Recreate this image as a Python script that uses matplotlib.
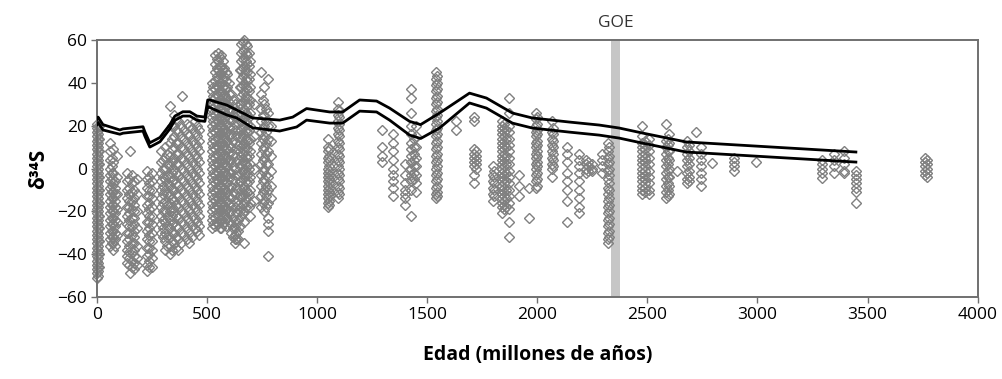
import numpy as np
import matplotlib.pyplot as plt

# Curva del sulfato marino: límite superior e inferior (edad en Ma, δ34S en ‰)
sulfato_edad_sup = [0, 5, 27, 104, 118, 209, 218, 240, 286, 331, 354, 390, 422, 454, 490, 503,
                    512, 590, 635, 707, 830, 889, 952, 1057, 1116, 1193, 1270, 1329, 1420, 1470,
                    1556, 1692, 1769, 1887, 1977, 2145, 2281, 2372, 2476, 2676, 3447]
sulfato_sup = [23, 24, 20.5, 18, 18.5, 19.5, 17, 12, 14.5, 20.5, 24.5, 26.5, 26.5, 24.5, 24, 32,
               32, 29.6, 27.3, 23.6, 22.6, 24, 28, 26.4, 26.4, 32, 31.5, 28.2, 22, 20.5,
               25.9, 35.2, 32.9, 25.9, 23.6, 21.7, 20.3, 18.9, 16.6, 12.4, 7.7]
sulfato_edad_inf = [0, 5, 27, 104, 118, 209, 218, 240, 286, 331, 354, 390, 422, 454, 490, 503,
                    512, 590, 635, 707, 830, 907, 952, 1057, 1116, 1193, 1270, 1329, 1420, 1470,
                    1556, 1692, 1769, 1887, 1977, 2145, 2281, 2372, 2476, 2676, 3447]
sulfato_inf = [20.5, 21.5, 18, 16, 16.5, 17.5, 15, 10, 12.5, 18.5, 22.5, 24.5, 24.5, 22.5, 22, 29,
               28.5, 25, 23.6, 19, 17.5, 19.4, 22.6, 21.2, 21.2, 26.8, 26.4, 22.6, 15.6, 14,
               18.9, 30.6, 28.2, 21.2, 18.9, 17, 15.6, 14.2, 11.9, 7.7, 3]

# Gran Evento de Oxidación
goe_inicio, goe_fin = 2335, 2375

# Sulfuros sedimentarios: (edad en Ma, valores de δ34S medidos a esa edad)
fanerozoico = [
    (0, [-51, -49, -47, -45, -43, -41, -39, -37, -35, -33, -31, -29, -27, -25, -23, -21, -19,
         -17, -15, -13, -11, -9, -7, -5, -3, -1, 1, 3, 5, 7, 9, 11, 13, 15, 17, 19, 21]),
    (3, [-50, -48, -46, -44, -42, -40, -38, -36, -34, -32, -30, -28, -26, -24, -22, -20, -18,
         -16, -14, -12, -10, -8, -6, -4, -2, 0, 2, 4, 6, 8, 10, 12, 14, 16, 18, 20]),
    (8, [-46, -40, -34, -28, -22, -16, -10, -4, 2, 8, 14, 20]),
    (60, [12, 8, 4, 0, -3, -6, -9, -12, -15, -18, -21, -24, -27, -30, -33, -36]),
    (67, [5, 1, -2, -5, -8, -11, -14, -17, -20, -23, -26, -29, -32, -35]),
    (74, [9, 3, -2, -7, -11, -14, -17, -20, -23, -26, -29, -32, -35, -38]),
    (82, [-6, -9, -12, -15, -18, -21, -24, -27, -30, -33, -36]),
    (90, [6, -4, -12, -19, -25, -31]),
    (138, [-2, -6, -10, -14, -18, -22, -26, -30, -34, -38, -41, -44]),
    (146, [-5, -9, -12, -15, -18, -21, -24, -27, -30, -33, -36, -39, -42, -45]),
    (152, [8, -49]),
    (160, [-3, -7, -11, -15, -19, -23, -27, -31, -35, -39, -43, -46]),
    (170, [-6, -10, -14, -17, -20, -23, -26, -29, -32, -35, -38, -41, -44, -47]),
    (182, [-5, -12, -20, -28, -36, -42, -45]),
    (228, [-1, -5, -9, -13, -17, -21, -25, -29, -33, -37, -41, -45, -48]),
    (238, [-4, -7, -10, -13, -16, -19, -22, -25, -28, -31, -34, -37, -40, -43, -46]),
    (248, [-2, -6, -10, -14, -18, -22, -26, -30, -34, -38, -42, -46]),
    (290, [8, 3, -2, -6, -10, -14, -18, -22, -26, -30]),
    (300, [4, 0, -4, -8, -12, -16, -20, -24, -28, -32]),
    (310, [10, 5, 0, -5, -10, -15, -20, -25, -30, -34, -38]),
    (320, [7, 2, -3, -7, -12, -17, -22, -27, -32, -36]),
    (330, [29, 12, 6, 1, -4, -8, -12, -16, -20, -24, -28, -32, -36, -40]),
    (340, [20, 14, 9, 3, -2, -6, -10, -14, -18, -22, -26, -30, -34, -38]),
    (350, [25, 20, 15, 10, 5, 0, -5, -10, -15, -20, -25, -30, -35]),
    (360, [23, 18, 12, 7, 2, -2, -7, -12, -17, -22, -27, -32, -37]),
    (370, [22, 17, 12, 7, 2, -3, -8, -13, -18, -23, -28, -33, -38]),
    (380, [20, 15, 10, 5, 0, -5, -10, -15, -20, -25, -30, -35]),
    (386, [34]),
    (395, [18, 14, 9, 4, -1, -6, -11, -16, -21, -26, -31]),
    (408, [21, 16, 12, 7, 2, -3, -8, -13, -18, -23, -28, -33]),
    (420, [20, 15, 10, 5, 0, -5, -10, -15, -20, -25, -30, -35]),
    (432, [19, 13, 8, 3, -2, -7, -12, -17, -22, -27, -32]),
    (445, [22, 17, 12, 7, 2, -3, -8, -13, -18, -23, -28]),
    (455, [20, 15, 10, 5, 0, -5, -10, -15, -20, -25, -29]),
    (465, [18, 13, 8, 3, -2, -7, -12, -17, -22, -27, -31]),
    (522, [40, 36, 32, 28, 24, 20, 16, 12, 8, 4, 0, -4, -8, -12, -16, -20, -24, -28]),
    (529, [38, 34, 30, 26, 22, 18, 14, 10, 6, 2, -2, -6, -10, -14, -18, -22, -26]),
    (536, [53, 49, 45, 41, 37, 33, 29, 25, 21, 17, 13, 9, 5, 1, -3, -7, -11, -15, -19, -23, -27]),
    (543, [51, 47, 43, 39, 35, 31, 27, 23, 19, 15, 11, 7, 3, -1, -5, -9, -13, -17, -21, -25]),
    (550, [54, 50, 46, 42, 38, 34, 30, 26, 22, 18, 14, 10, 6, 2, -2, -6, -10, -14, -18, -22, -26]),
    (557, [52, 48, 44, 40, 36, 32, 28, 24, 20, 16, 12, 8, 4, 0, -4, -8, -12, -16, -20, -24, -28]),
    (564, [53, 48, 44, 40, 36, 32, 28, 24, 20, 16, 12, 8, 4, 0, -4, -8, -12, -16, -20, -24, -28]),
    (571, [50, 46, 42, 38, 34, 30, 26, 22, 18, 14, 10, 6, 2, -2, -6, -10, -14, -18, -22, -26]),
    (578, [47, 43, 39, 35, 31, 27, 23, 19, 15, 11, 7, 3, -1, -5, -9, -13, -17, -21, -25]),
    (585, [45, 41, 37, 33, 29, 25, 21, 17, 13, 9, 5, 1, -3, -7, -11, -15, -19, -23, -27]),
    (592, [44, 38, 33, 29, 25, 21, 17, 13, 9, 5, 1, -3, -7, -11, -15, -19, -23]),
    (600, [40, 35, 31, 27, 23, 19, 15, 11, 7, 3, -1, -5, -9, -13, -17, -21, -25]),
    (608, [35, 28, 22, 16, 10, 4, -2, -8, -14, -20, -26, -30]),
    (616, [32, 25, 19, 13, 7, 1, -5, -11, -17, -23, -28, -32]),
    (625, [30, 24, 18, 12, 6, 0, -6, -12, -18, -24, -28, -31, -33, -35]),
    (632, [27, 21, 15, 9, 3, -3, -9, -15, -21, -26, -30, -33]),
    (640, [25, 18, 11, 4, -3, -10, -17, -24, -29, -33]),
    (648, [46, 38, 30, 22, 15, 8, 1, -6, -13, -20, -27]),
    (655, [58, 54, 50, 46, 42, 38, 34, 30, 26, 22, 18, 14, 10, 6, 2, -2, -6, -10, -14, -18, -22]),
    (662, [59, 55, 51, 47, 43, 39, 35, 31, 27, 23, 19, 15, 11, 7, 3, -1, -5, -9, -13, -17, -21]),
    (668, [60, 56, 52, 48, 44, 40, 36, 32, 28, 24, 20, 16, 12, 8, 4, 0, -4, -8, -12, -16, -20,
           -25, -35]),
    (675, [58, 54, 50, 46, 42, 38, 34, 30, 26, 22, 18, 14, 10, 6, 2, -2, -6, -10, -14, -18]),
    (682, [57, 53, 49, 45, 41, 37, 33, 29, 25, 21, 17, 13, 9, 5, 1, -3, -7, -11]),
    (689, [54, 48, 42, 36, 30, 24, 18, 12, 6, 0, -6, -12, -18]),
    (696, [50, 44, 38, 32, 26, 20, 14, 8, 2, -4, -10, -16, -22]),
    (715, [30, 15, 0, -15]),
    (745, [45, 35, 28, 22, 17, 12, 7, 2, -3, -8, -13, -18]),
    (752, [32, 25, 19, 14, 9, 4, -1, -6, -11, -16]),
    (760, [38, 30, 25, 20, 15, 10, 5, 0, -5, -10, -15, -20]),
    (769, [28, 22, 17, 12, 7, 2, -3, -8, -13, -18]),
    (778, [42, 26, 20, 14, 8, 2, -4, -10, -16, -23, -26, -29, -41]),
    (792, [20, 13, 6, -1, -8, -14]),
]

proterozoico = [
    (1048, [14, 10, 8, 5, 3, 0, -2, -4, -6, -8, -10, -12, -14, -16, -18]),
    (1053, [9, 6, 4, 1, -1, -3, -5, -7, -9, -11, -13, -15, -17]),
    (1093, [31, 28, 25, 22, 19, 16, 13, 10, 7, 4, 1, -2, -5, -8, -11, -14]),
    (1098, [27, 24, 21, 18, 15, 12, 9, 6, 3, 0, -3, -6, -9, -12]),
    (1293, [18, 10, 6, 3]),
    (1343, [16, 12, 8, 4, 0, -3, -6, -9, -13]),
    (1397, [2, -3, -7, -10, -12, -14, -17]),
    (1428, [37, 33, 26, 20, 16, 12, 9, 6, 3, 0, -3, -6, -10, -22]),
    (1440, [14, 10, 7, 4, 1, -2, -5]),
    (1451, [20, 15, 10, 5, 1, -3, -7, -11]),
    (1542, [45, 42, 39, 36, 33, 30, 27, 24, 21, 18, 15, 12, 9, 6, 3, 0, -3, -6, -9, -12, -14]),
    (1546, [43, 40, 37, 34, 31, 28, 25, 22, 19, 16, 13, 10, 7, 4, 1, -2, -5, -8, -11, -13]),
    (1632, [22, 18]),
    (1714, [24, 22, 9, 7, 5, 3, 1, -3, -7]),
    (1720, [8, 6, 4, 2, 0]),
    (1797, [1, -3, -6, -9, -12, -15]),
    (1803, [-1, -4, -7, -10, -13]),
    (1841, [22, 20, 18, 16, 14, 12, 10, 8, 6, 4, 2, 0, -2, -4, -6, -8, -10, -12, -14, -16, -18,
            -21]),
    (1848, [21, 19, 17, 15, 13, 11, 9, 7, 5, 3, 1, -1, -3, -5, -7, -9, -11, -13, -15, -17, -19]),
    (1860, [18, 14, 10, 6, 2, -2, -6, -10, -14, -18]),
    (1873, [33, 26, 20, 17, 14, 11, 8, 5, 2, -1, -4, -7, -10, -13, -16, -19, -25, -32]),
    (1918, [-3, -8, -13]),
    (1964, [-9, -23]),
    (1995, [26, 23, 20, 17, 15, 12, 10, 7, 5, 2, 0, -3, -6, -9]),
    (2000, [24, 21, 18, 16, 13, 11, 8, 6, 3, 1, -2, -5, -8]),
    (2068, [22, 17, 14, 11, 8, 5, 2, 0, -4]),
    (2073, [19, 16, 13, 10, 7, 4, 1]),
    (2136, [10, 7, 3, -2, -6, -10, -15, -25]),
    (2190, [7, 4, 1, -2, -6, -10, -14, -18, -21]),
    (2222, [4, 2, 0, -2]),
    (2232, [3, 1, -1]),
    (2250, [2, 0, -1]),
    (2295, [7, 4, 1, -2]),
    (2322, [12, 8, 5, 2, -1, -5, -9, -12, -15, -18, -21, -24, -27, -30, -33, -35]),
    (2326, [10, 6, 3, 0, -3, -7, -10, -14, -17, -20, -23, -26, -29, -32]),
]

arcaico = [
    (2476, [20, 15, 12, 10, 8, 6, 4, 2, 0, -2, -4, -6, -8, -10, -12]),
    (2490, [13, 11, 9, 7, 5, 3, 1, -1, -3, -5, -7, -9, -11]),
    (2508, [14, 11, 8, 5, 2, -1, -4, -7, -10, -12]),
    (2585, [21, 13, 10, 7, 4, 1, -2, -5, -8, -11, -14]),
    (2593, [14, 11, 8, 5, 2, -1, -4, -7, -10, -13]),
    (2600, [16, 12, 8, 4, 0, -4, -8, -12]),
    (2635, [-1]),
    (2682, [13, 10, 7, 4, 1, -2, -5, -7]),
    (2690, [11, 8, 5, 2, -1, -4, -6]),
    (2720, [17]),
    (2744, [10, 7, 4, 1, -2, -5, -8]),
    (2794, [2.5]),
    (2893, [5, 3, 1, -1]),
    (2993, [3]),
    (3293, [4, 2, 0, -2, -4.5]),
    (3347, [7, 4, 1, -2]),
    (3392, [8, 5, 2, -1, -2]),
    (3447, [-1, -3, -5, -7, -9, -11, -16]),
    (3760, [5, 3, 1, -1, -3]),
    (3772, [4, 2, 0, -2, -4]),
]

edades = []
d34s = []
for edad, valores in fanerozoico + proterozoico + arcaico:
    edades += [edad] * len(valores)
    d34s += valores

plt.rcParams['font.family'] = ['Open Sans', 'DejaVu Sans']

fig = plt.figure(figsize=(10.03, 3.79), dpi=100)
ax = fig.add_axes([0.0967, 0.2164, 0.878, 0.678])

ax.axvspan(goe_inicio, goe_fin, color='#c6c6c6', lw=0, zorder=0)
ax.text((goe_inicio + goe_fin) / 2, 64, 'GOE', ha='center', va='bottom',
        fontsize=12.5, color='#333333')

ax.plot(edades, d34s, ls='none', marker='D', ms=5.4, mfc='none',
        mec='#808080', mew=1.0, zorder=2, clip_on=False)

ax.plot(sulfato_edad_sup, sulfato_sup, color='black', lw=2.0, zorder=3)
ax.plot(sulfato_edad_inf, sulfato_inf, color='black', lw=2.0, zorder=3)

ax.set_xlim(0, 4000)
ax.set_ylim(-60, 60)
ax.set_xticks(np.arange(0, 4001, 500))
ax.set_yticks(np.arange(-60, 61, 20))
ax.tick_params(labelsize=12.5, length=4, width=1, color='#707070', pad=3)

for s in ax.spines.values():
    s.set_color('#707070')
    s.set_linewidth(1.4)

ax.set_xlabel('Edad (millones de años)', fontsize=14, fontweight='bold', labelpad=16)
ax.set_ylabel('δ³⁴S', fontsize=15, fontweight='bold', labelpad=6)

fig.savefig('out.png', dpi=100)
